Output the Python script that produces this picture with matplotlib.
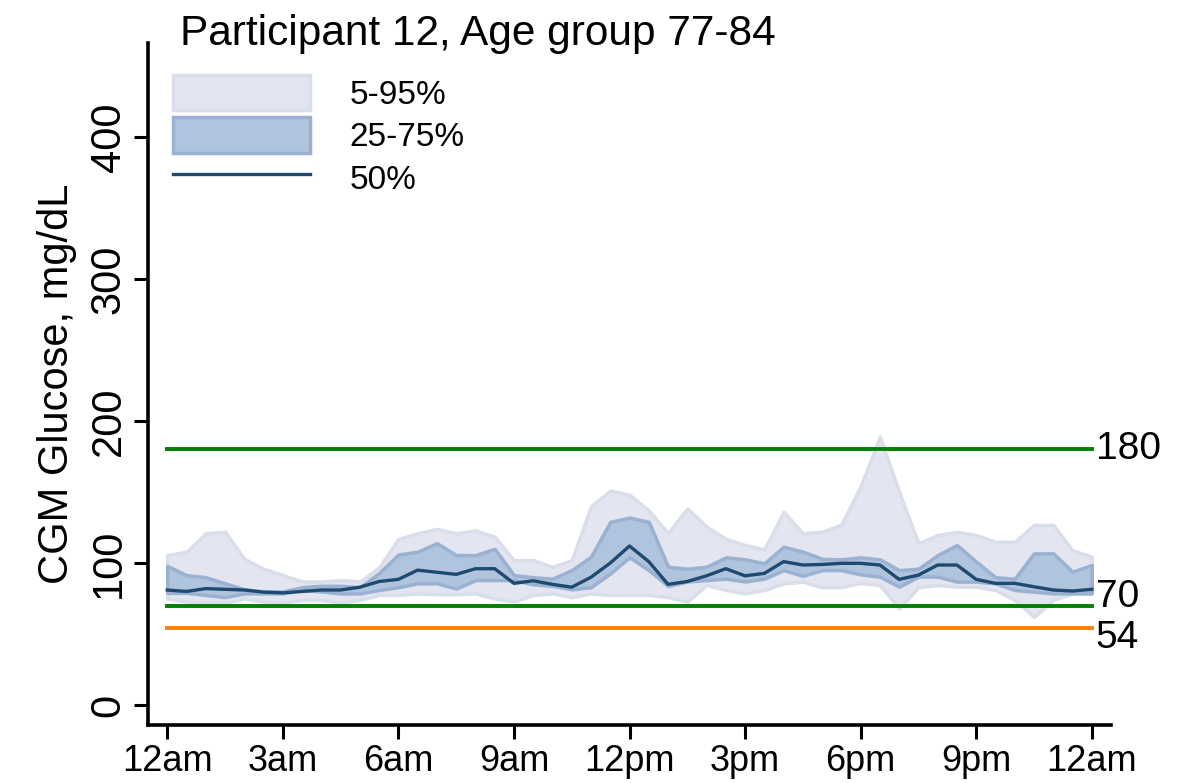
import numpy as np
import matplotlib
matplotlib.use("Agg")
import matplotlib.pyplot as plt
from matplotlib.patches import Patch
from matplotlib.lines import Line2D

plt.rcParams['font.family'] = ['Liberation Sans', 'DejaVu Sans']

# time of day in hours, every 30 minutes
hours = np.arange(0, 24.5, 0.5)

q05 = [75, 72.8, 72, 72, 75, 72.8, 72, 74, 74, 72, 74, 77.5, 77.5,
       78.6, 78, 78, 78.6, 75, 72.8, 77.5, 78.6, 76, 78.6, 77.5, 77.5,
       77.5, 76, 72.8, 84.5, 81, 78.6, 81, 85.7, 86.9, 83, 83, 86,
       84.5, 68, 83, 84.5, 83.3, 83.3, 81, 74, 62, 74, 78.6, 78.6]
q25 = [79, 79, 77.5, 76, 78.6, 78.6, 78.6, 81, 80, 78.6, 78.6, 81, 83,
       85.7, 85.7, 82, 88, 88, 88, 85, 84, 81.5, 83, 92.7, 104,
       95, 83.8, 87, 88, 89, 87, 89, 95, 91, 95, 95, 92,
       90.4, 83.3, 90.4, 90.4, 86.9, 86.9, 85.7, 81, 79.8, 78.6, 78.6, 78.6]
q50 = [81, 80, 82, 81.5, 81, 79.5, 79, 80, 81, 81, 83, 87, 88.5,
       95, 93.5, 92, 96, 96, 85.7, 87.5, 85, 83, 90, 100, 112,
       101, 85, 87, 91, 96, 91, 92.7, 101, 98.6, 99, 99.8, 99.8,
       98.6, 88.5, 91.5, 98.6, 98.6, 88.5, 85.7, 85.7, 83.3, 81, 80.3, 81.5]
q75 = [98, 91.5, 90, 85.7, 81.5, 80, 80, 83, 84, 84, 83, 93, 106,
       108, 114, 105.6, 105.6, 110, 91.5, 90, 89, 95, 104.5, 129, 132,
       129, 97.4, 96, 97.4, 104, 102.6, 99.8, 111.5, 108, 103, 102.6, 104,
       102.6, 95, 96, 105.6, 112.7, 101, 90, 89, 106.8, 106.8, 93.9, 98.6]
q95 = [105.6, 108, 121, 122, 103, 96, 91.5, 87, 87, 88, 87, 97, 117,
       121, 124, 121, 123, 118.5, 102, 102, 97.4, 102, 140, 151, 148,
       137, 121, 138.5, 125.6, 117, 112.7, 109.6, 136, 121, 122, 127, 154,
       189, 150, 114, 119.7, 122, 119.7, 115, 115, 126.8, 126.8, 109, 104.5]

tick_hours = [0, 3, 6, 9, 12, 15, 18, 21, 24]
tick_names = ['12am', '3am', '6am', '9am', '12pm', '3pm', '6pm', '9pm', '12am']
targets = [180, 70, 54]
target_colors = ['#008000', '#008000', '#ff7f00']
target_label_y = [180, 76, 47]

light = '#e3e6f0'
light_edge = '#dadeea'
dark = '#b0c4de'
dark_edge = '#9ab1d2'
med = '#1f4a70'

fig = plt.figure(figsize=(11.91, 7.83), dpi=100)
ax = fig.add_axes([148 / 1191, 58 / 783, 963 / 1191, 682 / 783])

ax.fill_between(hours, q05, q95, facecolor=light, edgecolor=light_edge, linewidth=2.5)
ax.fill_between(hours, q25, q75, facecolor=dark, edgecolor=dark_edge, linewidth=2.5)
ax.plot(hours, q50, color=med, linewidth=2.4)

for t, c, ly in zip(targets, target_colors, target_label_y):
    ax.plot([0, 24], [t, t], color=c, linewidth=2.8)
    ax.text(24.1, ly, str(t), fontsize=28, va='center', ha='left')

ax.set_xlim(-0.5, 24.5)
ax.set_ylim(-14, 466)
ax.set_xticks(tick_hours)
ax.set_xticklabels(tick_names)
ax.set_yticks([0, 100, 200, 300, 400])
ax.tick_params(axis='x', labelsize=26, width=2.2, length=10, pad=4)
ax.tick_params(axis='y', labelsize=30, width=2.2, length=10, pad=4)
for lab in ax.get_yticklabels():
    lab.set_rotation(90)
    lab.set_va('center')
for s in ['top', 'right']:
    ax.spines[s].set_visible(False)
for s in ['left', 'bottom']:
    ax.spines[s].set_linewidth(2.6)
ax.set_ylabel('CGM Glucose, mg/dL', fontsize=30, labelpad=8)

fig.text(180 / 1191, 1 - 45 / 783, 'Participant 12, Age group 77-84',
         fontsize=30.5, ha='left', va='baseline')

handles = [Patch(facecolor=light, edgecolor=light_edge, linewidth=2.5),
           Patch(facecolor=dark, edgecolor=dark_edge, linewidth=2.5),
           Line2D([0], [0], color=med, linewidth=2.4)]
ax.legend(handles, ['5-95%', '25-75%', '50%'], loc='upper left',
          bbox_to_anchor=(143 / 1191, 1 - 45 / 783), bbox_transform=fig.transFigure,
          frameon=False, fontsize=24, handlelength=4.1, handleheight=1.25,
          handletextpad=1.2, labelspacing=0.2)

fig.savefig('out.png', dpi=100)
